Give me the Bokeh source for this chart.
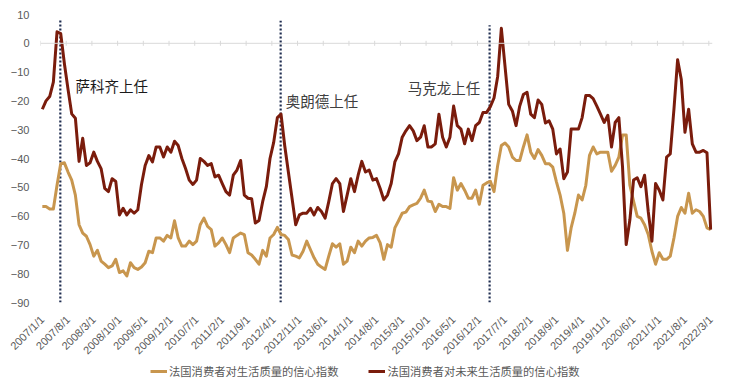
import math
from bokeh.plotting import figure
from bokeh.layouts import column
from bokeh.models import Range1d, FixedTicker, Span, Legend, LegendItem
from bokeh.core.properties import value
from bokeh.embed import file_html
from bokeh.resources import INLINE

# ---- data (monthly, 2007/1 .. 2022/3) ----
tick_labels = ["2007/1/1", "2007/8/1", "2008/3/1", "2008/10/1", "2009/5/1", "2009/12/1",
               "2010/7/1", "2011/2/1", "2011/9/1", "2012/4/1", "2012/11/1", "2013/6/1",
               "2014/1/1", "2014/8/1", "2015/3/1", "2015/10/1", "2016/5/1", "2016/12/1",
               "2017/7/1", "2018/2/1", "2018/9/1", "2019/4/1", "2019/11/1", "2020/6/1",
               "2021/1/1", "2021/8/1", "2022/3/1"]

current_quality = [
    -56.7, -56.7, -57.5, -57.5, -49.3, -41.8, -41.5, -44.7, -47.5, -52.7,
    -63.0, -65.9, -67.0, -69.9, -73.9, -71.9, -75.6, -76.7, -77.9, -77.3,
    -75.0, -79.6, -79.0, -80.8, -76.2, -77.9, -78.5, -77.7, -76.2, -72.2,
    -72.7, -67.6, -67.6, -68.7, -66.7, -67.6, -61.6, -67.6, -70.4, -70.4,
    -68.7, -69.9, -68.7, -63.0, -60.7, -63.6, -64.7, -70.4, -69.3, -67.6,
    -69.9, -72.7, -67.6, -66.7, -65.9, -66.4, -72.7, -73.5, -75.0, -76.7,
    -71.9, -73.9, -67.6, -66.4, -63.9, -66.4, -66.7, -68.1, -73.5, -73.9,
    -74.5, -72.2, -68.7, -71.6, -74.5, -76.7, -77.7, -78.5, -73.9, -69.6,
    -70.8, -69.6, -76.7, -75.6, -70.8, -72.7, -68.7, -70.4, -68.7, -67.6,
    -67.4, -66.7, -69.3, -75.0, -69.9, -70.8, -64.1, -61.6, -59.0, -58.6,
    -56.7, -56.1, -55.6, -53.8, -51.0, -54.8, -55.0, -58.4, -55.9, -56.7,
    -56.7, -57.3, -46.7, -51.0, -48.7, -51.0, -53.8, -53.8, -51.0, -55.9,
    -49.3, -48.5, -47.9, -51.5, -42.4, -35.5, -34.6, -36.0, -39.5, -40.7,
    -40.7, -36.0, -31.8, -37.8, -40.0, -36.9, -38.9, -41.8, -41.8, -43.0,
    -48.1, -52.7, -59.0, -71.9, -64.1, -59.0, -52.7, -54.4, -49.3, -38.9,
    -36.0, -38.4, -37.8, -37.8, -37.8, -44.4, -42.4, -39.5, -31.8, -31.8,
    -49.3, -54.8, -60.1, -60.7, -63.0, -66.4, -72.2, -76.7, -72.7, -75.0,
    -75.0, -73.9, -67.6, -60.1, -57.0, -59.0, -52.1, -59.0, -57.8, -58.4,
    -60.1, -64.1, -64.7]

future_quality = [
    -22.9, -20.0, -18.5, -13.5, 4.0, 3.4, -7.0, -16.0, -24.5, -26.0,
    -41.0, -33.0, -42.4, -41.5, -37.8, -41.0, -43.5, -50.4, -51.5, -47.0,
    -48.0, -59.6, -57.3, -59.6, -57.8, -59.0, -57.8, -49.0, -42.4, -39.0,
    -41.2, -36.0, -36.0, -39.5, -36.0, -37.8, -34.0, -35.5, -40.0, -43.5,
    -47.5, -49.0, -47.5, -40.0, -41.0, -42.4, -41.8, -46.4, -45.8, -48.7,
    -51.5, -52.7, -45.8, -44.0, -40.7, -52.7, -53.8, -54.0, -62.4, -61.5,
    -55.0, -49.8, -40.0, -34.4, -25.8, -24.6, -35.5, -44.7, -53.8, -63.0,
    -59.6, -59.0, -59.0, -57.3, -59.6, -57.0, -58.4, -60.7, -55.0, -48.7,
    -47.0, -48.7, -58.4, -52.7, -47.0, -51.5, -45.8, -41.0, -44.7, -44.0,
    -47.5, -47.0, -50.4, -54.4, -52.7, -48.7, -41.2, -38.4, -32.6, -30.4,
    -28.6, -30.4, -33.8, -32.6, -28.6, -36.0, -36.0, -34.9, -24.6, -32.6,
    -36.0, -32.6, -21.8, -28.6, -29.8, -34.9, -29.8, -33.8, -28.6, -27.5,
    -24.0, -24.0, -22.0, -19.0, -11.5, 5.2, -8.0, -21.2, -23.5, -28.6,
    -21.8, -17.8, -17.0, -24.6, -25.8, -19.7, -21.2, -27.7, -26.9, -29.8,
    -38.4, -36.7, -47.0, -44.7, -29.8, -29.8, -29.8, -25.8, -18.1, -18.1,
    -19.2, -21.8, -24.6, -27.5, -25.0, -36.0, -27.5, -25.8, -43.0, -69.9,
    -61.3, -47.5, -46.7, -49.8, -45.8, -58.4, -68.7, -48.7, -51.0, -54.4,
    -39.5, -38.4, -22.9, -5.7, -12.6, -30.9, -22.9, -34.9, -37.8, -37.8,
    -37.2, -38.0, -64.7]

series_names = ["法国消费者对生活质量的信心指数", "法国消费者对未来生活质量的信心指数"]

# events (month index from 2007/1) and their labels
event_x = [5.4, 65.4, 122.3]
event_top = [8.6, 7.8, 6.3]
event_labels = ["萨科齐上任", "奥朗德上任", "马克龙上任"]
label_x = [9.5, 66.8, 100.0]
label_y = [-14.8, -19.8, -15.2]

# ---- derived ----
n = len(current_quality)
xs = [i + 0.5 for i in range(n)]          # category centres
tick_pos = [7 * k for k in range(len(tick_labels))]      # category boundaries
label_pos = [t + 0.5 for t in tick_pos]                  # labels sit at category centres

TAN = "#C8964E"
DARK = "#7A1C0C"
GREY = "#595959"

p = figure(width=729, height=363, output_backend="svg", toolbar_location=None,
           x_range=Range1d(0, n), y_range=Range1d(-90, 10),
           min_border_left=40, min_border_right=17, min_border_top=14, min_border_bottom=59)
p.outline_line_color = None
p.grid.visible = False
p.background_fill_color = "white"
p.border_fill_color = "white"

# baseline at zero with small category tick marks
p.add_layout(Span(location=0, dimension="width", line_color="#D9D9D9", line_width=1))
p.scatter(tick_pos, [0] * len(tick_pos), marker="dash", angle=math.pi / 2, size=5,
          line_color="#D9D9D9", line_width=1)

# event lines
p.segment(x0=event_x, x1=event_x, y0=[-90] * len(event_x), y1=event_top,
          line_color="#1F2D50", line_width=2.2, line_dash="2 2")

r1 = p.line(xs, current_quality, line_color=TAN, line_width=3, line_join="round")
r2 = p.line(xs, future_quality, line_color=DARK, line_width=3, line_join="round")

p.text(x=label_x[:1], y=label_y[:1], text=event_labels[:1], text_font=value("Noto Sans CJK SC"),
       text_font_size="14.5px", text_color="#1A1A1A", text_baseline="middle", text_align="left")
p.text(x=label_x[1:], y=label_y[1:], text=event_labels[1:], text_font=value("Noto Sans CJK SC"),
       text_font_size="14.5px", text_color="#404040", text_baseline="middle", text_align="left")

# axes
p.xaxis.ticker = FixedTicker(ticks=label_pos)
p.xaxis.major_label_overrides = {t: lab for t, lab in zip(label_pos, tick_labels)}
p.xaxis.major_label_orientation = math.pi / 4
p.xaxis.axis_line_color = None
p.xaxis.major_tick_line_color = None
p.xaxis.major_tick_out = 0
p.xaxis.major_tick_in = 0
p.xaxis.minor_tick_line_color = None
p.xaxis.major_label_standoff = 15
p.xaxis.major_label_text_font = "Liberation Sans"
p.xaxis.major_label_text_font_size = "11px"
p.xaxis.major_label_text_color = GREY

p.yaxis.ticker = FixedTicker(ticks=list(range(-90, 11, 10)))
p.yaxis.axis_line_color = None
p.yaxis.major_tick_line_color = None
p.yaxis.major_tick_out = 0
p.yaxis.major_tick_in = 0
p.yaxis.minor_tick_line_color = None
p.yaxis.major_label_standoff = 11
p.yaxis.major_label_text_font = "Liberation Sans"
p.yaxis.major_label_text_font_size = "11px"
p.yaxis.major_label_text_color = GREY

# legend strip below the chart
lg = figure(width=729, height=25, output_backend="svg", toolbar_location=None,
            x_axis_type=None, y_axis_type=None, min_border=0,
            x_range=Range1d(0, 1), y_range=Range1d(0, 1))
lg.outline_line_color = None
lg.grid.visible = False
l1 = lg.line([2, 3], [2, 3], line_color=TAN, line_width=3)
l2 = lg.line([2, 3], [2, 3], line_color=DARK, line_width=3)
legend = Legend(items=[LegendItem(label=series_names[0], renderers=[l1]),
                       LegendItem(label=series_names[1], renderers=[l2])],
                location=(110, 9), orientation="horizontal",
                label_text_font="Noto Sans CJK SC", label_text_font_size="11.3px",
                label_text_color=GREY, glyph_width=17, glyph_height=14, label_height=14,
                label_standoff=2, spacing=30, padding=0, margin=0,
                border_line_color=None, background_fill_alpha=0)
lg.add_layout(legend)

layout = column(p, lg, spacing=0)
open("out.html", "w").write(file_html(layout, INLINE))
